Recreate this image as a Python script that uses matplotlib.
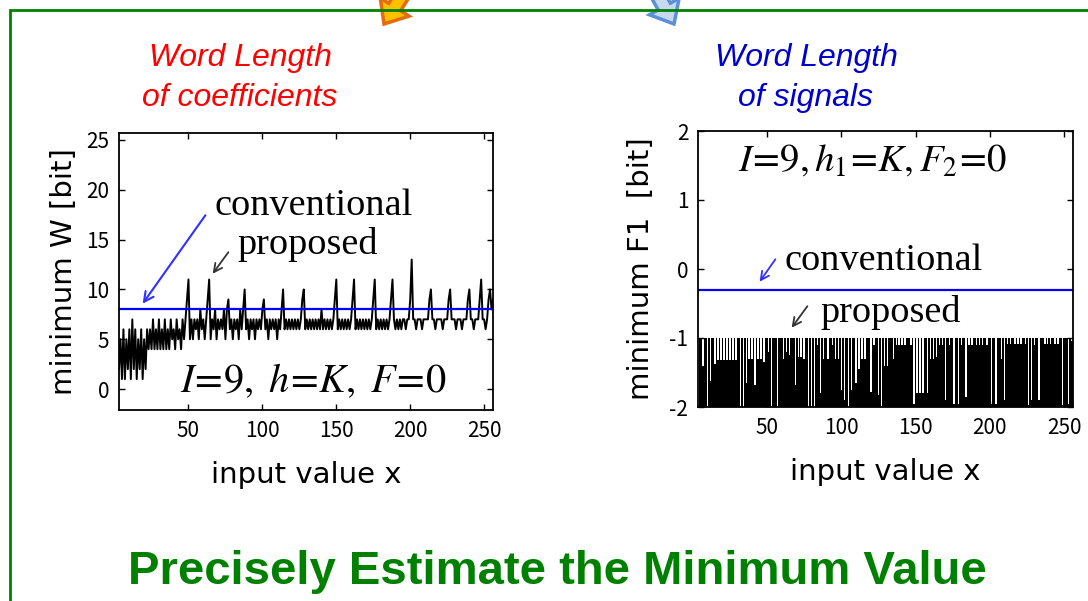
import numpy as np
import matplotlib
matplotlib.use('Agg')
import matplotlib.pyplot as plt
from matplotlib.patches import FancyArrow

plt.rcParams['font.family'] = ['DejaVu Sans']
plt.rcParams['mathtext.fontset'] = 'stix'
plt.rcParams['axes.unicode_minus'] = False

# minimum word length of the coefficients, input x = 3..256
x_w = np.arange(3, 257)
w_prop = [
    2, 5, 1, 6, 1, 5, 2, 6, 1, 7,      # 3-12
    2, 6, 1, 5, 2, 6, 1, 5, 2, 6,      # 13-22
    4, 6, 4, 7, 4, 6, 4, 7, 4, 6,      # 23-32
    4, 7, 4, 6, 4, 7, 5, 6, 4, 7,      # 33-42
    5, 6, 4, 7, 5, 7, 9, 11, 5, 7,     # 43-52
    5, 7, 6, 7, 5, 8, 6, 7, 5, 7,      # 53-62
    9, 11, 5, 7, 6, 8, 5, 7, 6, 7,     # 63-72
    6, 8, 5, 8, 9, 6, 7, 5, 7, 6,      # 73-82
    7, 5, 8, 6, 8, 10, 6, 7, 5, 7,     # 83-92
    6, 7, 5, 7, 6, 7, 6, 8, 9, 6,      # 93-102
    7, 5, 7, 6, 7, 6, 7, 5, 7, 6,      # 103-112
    8, 10, 6, 7, 6, 7, 6, 7, 6, 7,     # 113-122
    6, 7, 6, 7, 9, 10, 6, 7, 6, 7,     # 123-132
    6, 7, 6, 7, 6, 7, 6, 8, 6, 7,      # 133-142
    6, 7, 6, 7, 6, 7, 9, 11, 6, 7,     # 143-152
    6, 7, 6, 7, 6, 7, 6, 7, 9, 11,     # 153-162
    6, 7, 6, 7, 6, 7, 6, 7, 6, 7,      # 163-172
    6, 7, 9, 11, 6, 7, 6, 7, 6, 7,     # 173-182
    6, 7, 6, 7, 9, 11, 7, 6, 7, 6,     # 183-192
    7, 6, 7, 7, 6, 7, 7, 9, 13, 7,     # 193-202
    7, 6, 7, 7, 7, 6, 7, 7, 7, 7,      # 203-212
    9, 10, 7, 7, 6, 7, 7, 7, 7, 6,     # 213-222
    7, 7, 7, 9, 10, 7, 7, 7, 6, 7,     # 223-232
    7, 7, 6, 7, 7, 7, 9, 10, 7, 7,     # 233-242
    6, 7, 7, 7, 9, 11, 7, 7, 6, 7,     # 243-252
    9, 10, 8, 9,                       # 253-256
]
w_conv = 8

# minimum F1 of the signals, input x = 4..256
x_f = np.arange(4, 257)
f1_prop = [
    -1, -1, -1, -1.4, -1, -1, -2, -1, -1.63, -1,                 # 4-13
    -1, -1.37, -1, -1.32, -1, -1.32, -1, -1.32, -1, -1.32,       # 14-23
    -1, -1.32, -1, -1.32, -1, -1.32, -1, -1, -2, -1,             # 24-33
    -2, -1, -1.65, -1, -1.3, -1, -1.3, -1, -1.68, -1,            # 34-43
    -1.3, -1, -1.3, -1, -1.35, -1, -1, -1.2, -1, -2,             # 44-53
    -1, -1, -1, -2, -1, -1, -1, -1.3, -1, -1.2,                  # 54-63
    -1, -1.25, -1, -1, -1, -1.68, -1, -1.28, -1, -1.28,          # 64-73
    -1, -1.3, -1, -1, -2, -1, -2, -1, -2, -1,                    # 74-83
    -1.1, -1, -1.8, -1, -1.3, -1, -1, -1.3, -1, -1,              # 84-93
    -1.1, -1, -1.3, -1, -1.3, -1, -1.75, -1, -1.9, -1,           # 94-103
    -1, -2, -1, -1.75, -1, -1, -1.65, -1, -1.45, -1,             # 104-113
    -1.3, -1, -1.3, -1, -1, -1, -1.78, -1, -1.1, -1,             # 114-123
    -1, -1.82, -1, -2, -1, -1.4, -1, -1.4, -1, -1,               # 124-133
    -1, -1.3, -1, -1.1, -1, -1.1, -1, -1.1, -1, -1.1,            # 134-143
    -1, -1, -1, -1.1, -1, -1.95, -1, -1.8, -1, -1.8,             # 144-153
    -1, -1.8, -1, -1, -1.8, -1, -1.3, -1, -1.3, -1,              # 154-163
    -1.28, -1, -1.1, -1, -1.1, -1, -1.9, -1, -1, -1.1,           # 164-173
    -1, -1, -1.95, -1, -1, -1.95, -1, -1.1, -1, -1,              # 174-183
    -1.85, -1, -1.1, -1, -1.1, -1, -1, -1.1, -1, -1.1,           # 184-193
    -1, -1.1, -1, -1, -1.1, -1, -1, -1.95, -1, -1,               # 194-203
    -1.95, -1, -1, -1, -1.3, -1, -1.9, -1, -1.08, -1,            # 204-213
    -1.08, -1, -1, -1.08, -1, -1.08, -1, -1.08, -1, -1,          # 214-223
    -1.08, -1, -1.97, -1, -1.9, -1, -1.1, -1, -1, -1.9,          # 224-233
    -1, -1, -1, -1.08, -1, -1.08, -1, -1.08, -1, -1,             # 234-243
    -1.08, -1, -1.08, -1, -1, -1.97, -1, -1, -1, -1.95,          # 244-253
    -1, -1.05, -1.05,                                            # 254-256
]
f1_conv = -0.3

W, H = 1088, 601
fig = plt.figure(figsize=(W / 100, H / 100), dpi=100)

serif = ['Liberation Serif', 'DejaVu Serif']
sans = ['Liberation Sans', 'DejaVu Sans']
tick_font = ['Noto Sans CJK JP', 'DejaVu Sans']

# left panel: word length of coefficients
ax1 = fig.add_axes([119 / W, 1 - 410 / H, 374 / W, 277 / H])
ax1.plot(x_w, w_prop, color='k', lw=1.4)
ax1.axhline(w_conv, color='#0000ff', lw=1.6)
ax1.set_xlim(3, 256)
ax1.set_ylim(-2.1, 25.7)
ax1.set_xticks([50, 100, 150, 200, 250])
ax1.set_yticks([0, 5, 10, 15, 20, 25])
ax1.set_xlabel('input value x', fontsize=21, labelpad=14)
ax1.set_ylabel('minimum W [bit]', fontsize=21, labelpad=6)

# right panel: word length of signals
ax2 = fig.add_axes([698 / W, 1 - 407 / H, 375 / W, 276 / H])
ax2.fill_between(x_f, -2, f1_prop, step='mid', color='k', lw=0)
ax2.axhline(f1_conv, color='#0000ff', lw=1.6)
ax2.set_xlim(3.5, 256)
ax2.set_ylim(-2, 2)
ax2.set_xticks([50, 100, 150, 200, 250])
ax2.set_yticks([-2, -1, 0, 1, 2])
ax2.set_xlabel('input value x', fontsize=21, labelpad=14)
ax2.set_ylabel('minimum F1  [bit]', fontsize=21, labelpad=10)

for ax in (ax1, ax2):
    ax.tick_params(direction='in', top=True, right=True, length=4,
                   width=1, labelsize=15, pad=7)
    for lbl in ax.get_xticklabels() + ax.get_yticklabels():
        lbl.set_fontfamily(tick_font)
    for sp in ax.spines.values():
        sp.set_linewidth(1.3)

# overlay in pixel coordinates for frame, titles and notes
bg = fig.add_axes([0, 0, 1, 1])
bg.set_xlim(0, W)
bg.set_ylim(H, 0)
bg.axis('off')
bg.patch.set_visible(False)
bg.set_zorder(5)

bg.plot([10, 10, W], [H, 10, 10], color='#008000', lw=2.0,
        solid_joinstyle='miter')

bg.add_patch(FancyArrow(418, -30, -34, 54, width=14, head_width=34,
                        head_length=20, length_includes_head=True,
                        fc='#ffc000', ec='#e46c0a', lw=2.5, clip_on=False))
bg.add_patch(FancyArrow(644, -30, 30, 54, width=14, head_width=34,
                        head_length=20, length_includes_head=True,
                        fc='#c6d9f1', ec='#5b8fd6', lw=2.5, clip_on=False))

bg.text(240, 78, 'Word Length\nof coefficients', color='#ff0000',
        style='italic', family=sans, fontsize=23, ha='center', va='center',
        linespacing=1.4)
bg.text(806, 78, 'Word Length\nof signals', color='#0000cc',
        style='italic', family=sans, fontsize=23, ha='center', va='center',
        linespacing=1.4)

bg.text(557, 572, 'Precisely Estimate the Minimum Value', color='#008000',
        family=sans, weight='bold', fontsize=34, ha='center', va='center')

blue_arrow = dict(arrowstyle='->,head_length=0.6,head_width=0.3',
                  color='#3030ff', lw=1.3)
black_arrow = dict(arrowstyle='->,head_length=0.6,head_width=0.3',
                   color='#333333', lw=1.3)

# annotations, left panel
bg.text(215, 206, 'conventional', family=serif, fontsize=27.5, va='center')
bg.text(237, 244, 'proposed', family=serif, fontsize=27.5, va='center')
bg.text(180, 381, r'$I\!=\!9,\ h\!=\!K,\ F\!=\!0$', fontsize=29,
        va='center')
bg.annotate('', xy=(141, 306), xytext=(207, 213),
            arrowprops=dict(arrowstyle='->,head_length=0.7,head_width=0.35',
                            color='#3030ff', lw=1.5))
bg.annotate('', xy=(211, 276), xytext=(230, 250), arrowprops=black_arrow)

# annotations, right panel
bg.text(738, 160, r'$I\!=\!9, h_{\mathit{1}}\!=\!K, F_{\mathit{2}}\!=\!0$',
        fontsize=28, va='center')
bg.text(785, 261, 'conventional', family=serif, fontsize=27.5, va='center')
bg.text(820, 313, 'proposed', family=serif, fontsize=27.5, va='center')
bg.annotate('', xy=(758, 284), xytext=(777, 257), arrowprops=blue_arrow)
bg.annotate('', xy=(790, 330), xytext=(809, 304), arrowprops=black_arrow)

fig.savefig('out.png', dpi=100)
